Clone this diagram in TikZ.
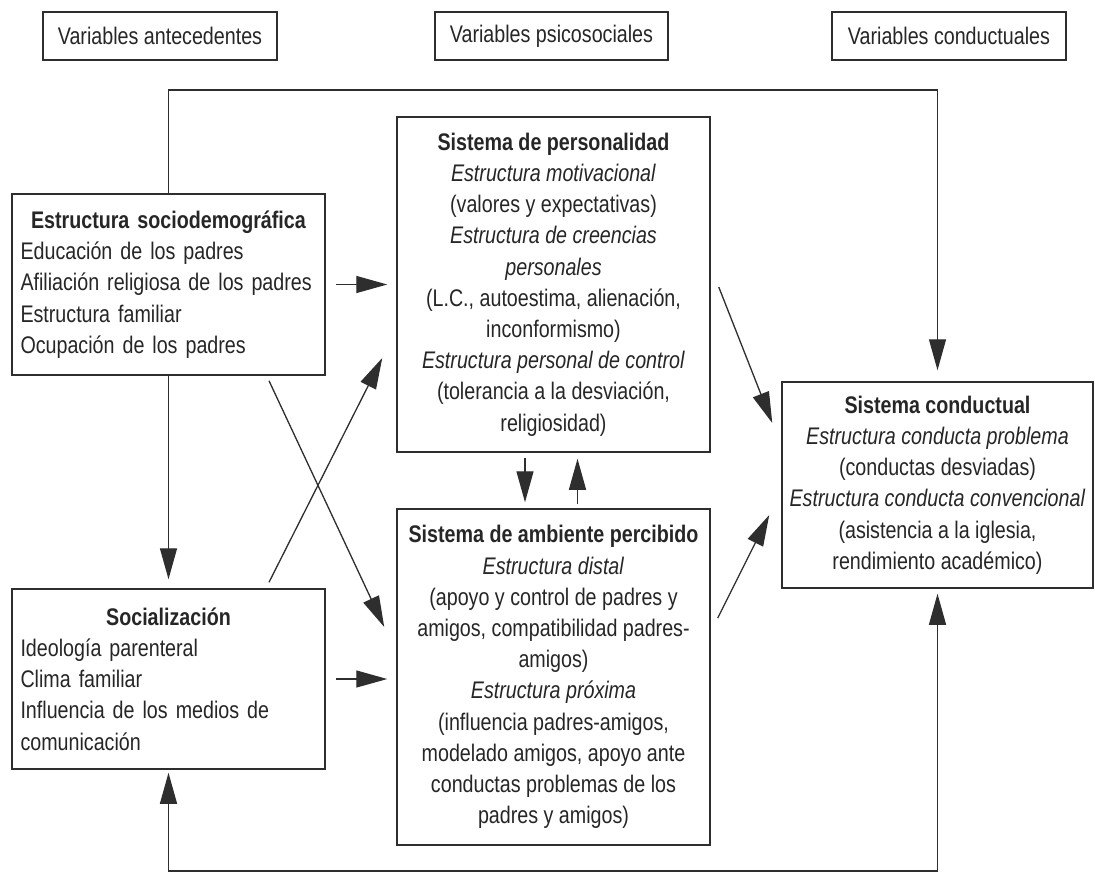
\documentclass[tikz,border=0pt]{standalone}
\usepackage{fontspec}
\setmainfont{Liberation Sans}[FakeStretch=0.82]
\usetikzlibrary{arrows.meta,calc}
\definecolor{ink}{HTML}{262626}
\definecolor{edge}{HTML}{2E2E2E}
\tikzset{
  box/.style={draw=edge, line width=1.5pt, rectangle, inner sep=0pt, text=ink},
  hdr/.style={box, minimum height=48pt, line width=1.4pt},
  arr/.style={draw=edge, line width=1.3pt, -{Triangle[length=31pt,width=17pt]}},
  arrb/.style={draw=edge, line width=1.3pt, {Triangle[length=31pt,width=17pt]}-{Triangle[length=31pt,width=17pt]}},
}
\begin{document}
\begin{tikzpicture}[x=1pt, y=-1pt, font=\fontsize{24}{31.2}\selectfont]
\useasboundingbox[fill=white] (0,0) rectangle (1095,873);

% headers
\node[hdr, minimum width=234pt] (h1) at (160,36) {Variables antecedentes};
\node[hdr, minimum width=233pt] (h2) at (551.5,36) {Variables psicosociales};
\node[hdr, minimum width=234pt] (h3) at (949,36) {Variables conductuales};

% boxes
\node[box, minimum width=313pt, minimum height=181pt, text width=296pt, align=left] (socio) at (168.5,284.5)
  {{\centering\textbf{Estructura sociodemográfica}\par}Educación de los padres\\Afiliación religiosa de los padres\\Estructura familiar\\Ocupación de los padres};

\node[box, minimum width=313pt, minimum height=180pt, text width=296pt, align=left] (social) at (168.5,679)
  {{\centering\textbf{Socialización}\par}Ideología parenteral\\Clima familiar\\Influencia de los medios de\\comunicación};

\node[box, minimum width=313pt, minimum height=335pt, align=center] (pers) at (553.5,284.5)
  {\textbf{Sistema de personalidad}\\\textit{Estructura motivacional}\\(valores y expectativas)\\\textit{Estructura de creencias}\\\textit{personales}\\(L.C., autoestima, alienación,\\inconformismo)\\\textit{Estructura personal de control}\\(tolerancia a la desviación,\\religiosidad)};

\node[box, minimum width=313pt, minimum height=336pt, align=center] (amb) at (553.5,677)
  {\textbf{Sistema de ambiente percibido}\\\textit{Estructura distal}\\(apoyo y control de padres y\\amigos, compatibilidad padres-\\amigos)\\\textit{Estructura próxima}\\(influencia padres-amigos,\\modelado amigos, apoyo ante\\conductas problemas de los\\padres y amigos)};

\node[box, minimum width=311pt, minimum height=206pt, align=center] (cond) at (937.5,485)
  {\textbf{Sistema conductual}\\\textit{Estructura conducta problema}\\(conductas desviadas)\\\textit{Estructura conducta convencional}\\(asistencia a la iglesia,\\rendimiento académico)};

% helper coordinates
\coordinate (topL) at (168.5,90);
\coordinate (botL) at (168.5,871);
\coordinate (d1s) at ($(socio.south)+(100.5,5)$);
\coordinate (d1e) at ($(amb.west)+(-12,-50)$);
\coordinate (d2s) at ($(social.north)+(100.5,-6)$);
\coordinate (d2e) at ($(pers.west)+(-14,73.5)$);
\coordinate (d3s) at ($(pers.east)+(8,2.5)$);
\coordinate (d3e) at ($(cond.west)+(-9,-62)$);
\coordinate (d4s) at ($(amb.east)+(7,-59)$);
\coordinate (d4e) at ($(cond.west)+(-12,30)$);

% connectors
\draw[arr, shorten >=11pt] (socio.north) -- (topL) -| (cond.north);
\draw[arrb, shorten <=5pt, shorten >=3pt] (cond.south) |- (botL) -- (social.south);
\draw[arr, shorten <=10pt, shorten >=9pt] (socio.east) -- (pers.west);
\draw[arr, shorten <=10pt, shorten >=9pt] (social.east) -- (social.east -| amb.west);
\draw[arr, shorten >=9pt] (socio.south) -- (social.north);
\draw[arr] (d1s) -- (d1e);
\draw[arr] (d2s) -- (d2e);
\draw[arr] (d3s) -- (d3e);
\draw[arr] (d4s) -- (d4e);
\draw[arr, shorten <=5pt, shorten >=6pt] ([xshift=-28.5pt]pers.south) -- ([xshift=-28.5pt]amb.north);
\draw[arr, shorten <=4pt, shorten >=6pt] ([xshift=24pt]amb.north) -- ([xshift=24pt]pers.south);
\end{tikzpicture}
\end{document}
